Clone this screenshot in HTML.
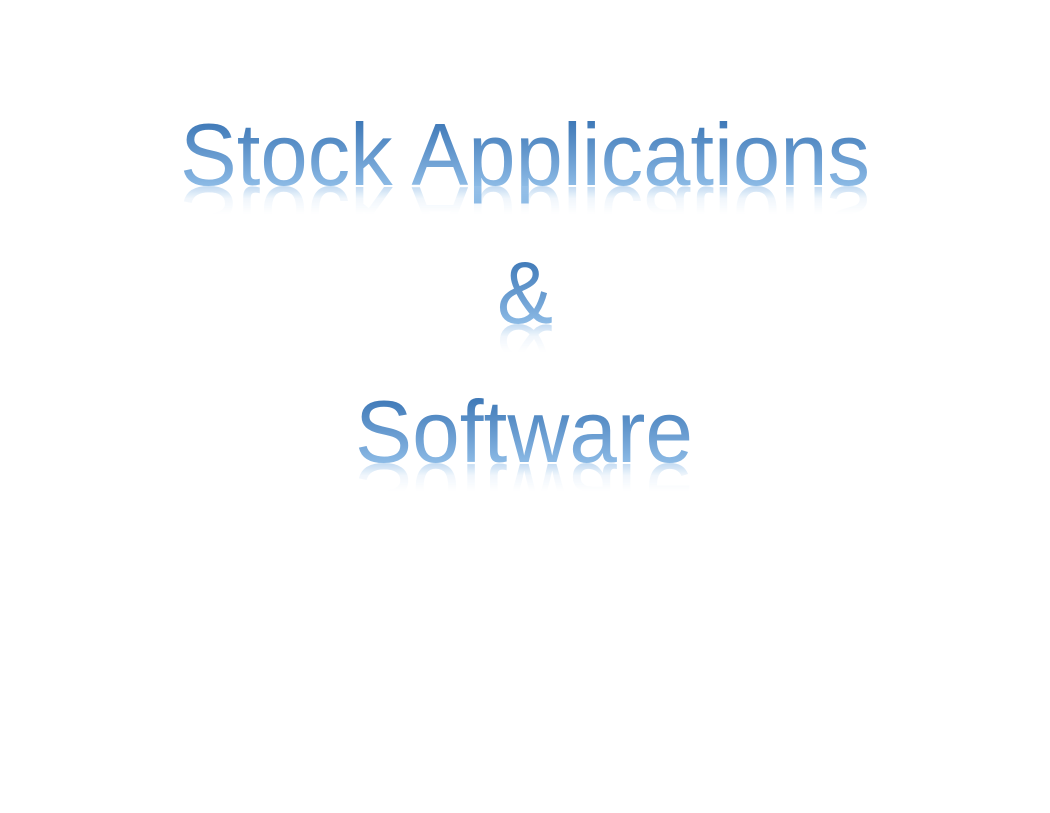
<!DOCTYPE html>
<html><head><meta charset="utf-8"><style>
html,body{margin:0;padding:0;background:#fff;}
svg{display:block;}
text{font-family:"Liberation Sans",sans-serif;font-size:88px;}
</style></head><body>
<svg width="1050" height="813" viewBox="0 0 1050 813" xmlns="http://www.w3.org/2000/svg">
<defs>
<linearGradient id="g1" gradientUnits="userSpaceOnUse" x1="0" y1="120" x2="0" y2="187"><stop offset="0" stop-color="#3d77b6"/><stop offset="1" stop-color="#8dbbe6"/></linearGradient>
<linearGradient id="g2" gradientUnits="userSpaceOnUse" x1="0" y1="258" x2="0" y2="325"><stop offset="0" stop-color="#3d77b6"/><stop offset="1" stop-color="#8dbbe6"/></linearGradient>
<linearGradient id="g3" gradientUnits="userSpaceOnUse" x1="0" y1="397" x2="0" y2="464"><stop offset="0" stop-color="#3d77b6"/><stop offset="1" stop-color="#8dbbe6"/></linearGradient>
<linearGradient id="fade" x1="0" y1="0" x2="0" y2="1"><stop offset="0" stop-color="#fff" stop-opacity="1"/><stop offset="0.45" stop-color="#fff" stop-opacity="0.25"/><stop offset="1" stop-color="#fff" stop-opacity="0"/></linearGradient>
<mask id="m1" maskUnits="userSpaceOnUse"><rect x="0" y="186" width="1050" height="28" fill="url(#fade)"/></mask>
<mask id="m2" maskUnits="userSpaceOnUse"><rect x="0" y="324" width="1050" height="28" fill="url(#fade)"/></mask>
<mask id="m3" maskUnits="userSpaceOnUse"><rect x="0" y="463" width="1050" height="28" fill="url(#fade)"/></mask>
</defs>
<text x="180" y="185" textLength="690" lengthAdjust="spacingAndGlyphs" fill="url(#g1)">Stock Applications</text>
<g mask="url(#m1)"><text x="180" y="185" textLength="690" lengthAdjust="spacingAndGlyphs" fill="#9cc4ea" opacity="0.6" transform="translate(0,372) scale(1,-1)">Stock Applications</text></g>
<text x="497" y="323" textLength="56" lengthAdjust="spacingAndGlyphs" fill="url(#g2)">&amp;</text>
<g mask="url(#m2)"><text x="497" y="323" textLength="56" lengthAdjust="spacingAndGlyphs" fill="#9cc4ea" opacity="0.6" transform="translate(0,648) scale(1,-1)">&amp;</text></g>
<text x="355" y="462" textLength="338" lengthAdjust="spacingAndGlyphs" fill="url(#g3)">Software</text>
<g mask="url(#m3)"><text x="355" y="462" textLength="338" lengthAdjust="spacingAndGlyphs" fill="#9cc4ea" opacity="0.6" transform="translate(0,926) scale(1,-1)">Software</text></g>
</svg>
</body></html>
